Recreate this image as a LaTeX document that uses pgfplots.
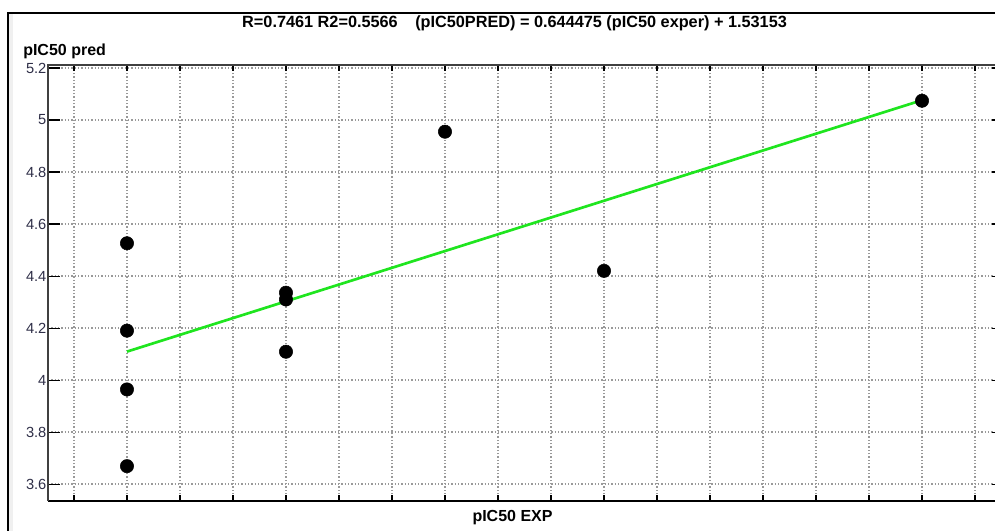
\documentclass[border=0pt]{standalone}
\usepackage{pgfplots}
\pgfplotsset{compat=1.18}
\usepackage{fontspec}
\setmainfont{Liberation Sans}
\definecolor{gridc}{rgb}{0.6,0.6,0.6}
\definecolor{tickc}{rgb}{0.18,0.18,0.28}
\definecolor{lgreen}{rgb}{0.12,0.9,0.12}
\definecolor{axc}{rgb}{0.25,0.25,0.25}
\begin{document}
\begin{tikzpicture}
\begin{axis}[
  scale only axis, width=717pt, height=327pt,
  xmin=3.851, xmax=5.6547, ymin=3.535, ymax=5.2115,
  axis line style={draw=none},
  xtick={3.9,4.0,4.1,4.2,4.3,4.4,4.5,4.6,4.7,4.8,4.9,5.0,5.1,5.2,5.3,5.4,5.5,5.6},
  xticklabels={},
  ytick={3.6,3.8,4.0,4.2,4.4,4.6,4.8,5.0,5.2},
  tick align=inside,
  xtick style={/pgfplots/major tick length=4.5pt, black, line width=0.8pt},
  ytick style={/pgfplots/major tick length=9pt, black, line width=0.8pt},
  xmajorgrids, ymajorgrids,
  major grid style={gridc, line width=1pt, dash pattern=on 1pt off 1.5pt},
  yticklabel style={font=\fontsize{11pt}{13pt}\selectfont, text=tickc, inner xsep=1pt},
  /pgf/number format/assume math mode=true,
  clip=false,
]
\addplot[only marks, mark=*, mark size=5pt, black, mark options={fill=black}] coordinates {
(4.0,4.526) (4.0,4.19) (4.0,3.964) (4.0,3.669)
(4.3,4.336) (4.3,4.31) (4.3,4.109)
(4.6,4.955) (4.9,4.42) (5.5,5.074)
};
\addplot[lgreen, line width=2pt] coordinates {(4.0,4.10943) (5.5,5.07615)};
\draw[black, line width=1.1pt] (axis description cs:0,0) -- (axis description cs:1,0);
\draw[axc, line width=1pt] (axis description cs:0,0) -- (axis description cs:0,1) -- (axis description cs:1,1);
\node[anchor=base west, font=\fontsize{12.2pt}{14pt}\selectfont\bfseries, inner sep=0pt] at (axis description cs:0.2029,1.086) {R=0.7461 R2=0.5566};
\node[anchor=base west, font=\fontsize{12.2pt}{14pt}\selectfont\bfseries, inner sep=0pt] at (axis description cs:0.3839,1.086) {(pIC50PRED) = 0.644475 (pIC50 exper) + 1.53153};
\node[anchor=base west, font=\fontsize{12pt}{14pt}\selectfont\bfseries, inner sep=0pt] at (axis description cs:-0.02615,1.0229) {pIC50 pred};
\node[anchor=base, font=\fontsize{12pt}{14pt}\selectfont\bfseries, inner sep=0pt] at (axis description cs:0.4859,-0.047) {pIC50 EXP};
\end{axis}
\draw[gray!12, line width=3pt] ([xshift=-27.75pt,yshift=-40pt]current axis.south west) -- ([xshift=-27.75pt,yshift=38pt]current axis.north west);
\draw[black, line width=2pt] ([xshift=-30pt,yshift=-40pt]current axis.south west) -- ([xshift=-30pt,yshift=39pt]current axis.north west) -- ([xshift=20pt,yshift=39pt]current axis.north east);
\pgfresetboundingbox
\useasboundingbox ([xshift=-36pt,yshift=-22.5pt]current axis.south west) rectangle ([xshift=-6.75pt,yshift=48.75pt]current axis.north east);
\end{tikzpicture}
\end{document}
